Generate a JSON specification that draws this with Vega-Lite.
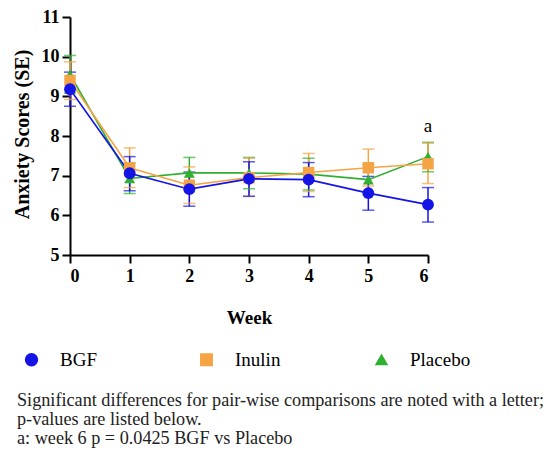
{
  "$schema": "https://vega.github.io/schema/vega-lite/v6.json",
  "width": 358,
  "height": 238,
  "autosize": {"type": "none"},
  "padding": {"left": 70, "top": 17, "right": 121, "bottom": 199},
  "background": "white",
  "config": {
    "view": {"stroke": null},
    "font": "Liberation Serif"
  },
  "title": {
    "text": [
      "Significant differences for pair-wise comparisons are noted with a letter;",
      "p-values are listed below.",
      "a: week 6 p = 0.0425 BGF vs Placebo"
    ],
    "orient": "bottom",
    "anchor": "start",
    "frame": "group",
    "dx": -53,
    "offset": 22,
    "font": "Liberation Serif",
    "fontSize": 18.2,
    "fontWeight": "normal",
    "lineHeight": 19,
    "color": "#222"
  },
  "data": {
    "values": [
      {"group": "Placebo", "week": 0, "mean": 9.55, "lo": 9.08, "hi": 10.03},
      {"group": "Placebo", "week": 1, "mean": 6.93, "lo": 6.55, "hi": 7.32},
      {"group": "Placebo", "week": 2, "mean": 7.07, "lo": 6.67, "hi": 7.46},
      {"group": "Placebo", "week": 3, "mean": 7.07, "lo": 6.67, "hi": 7.46},
      {"group": "Placebo", "week": 4, "mean": 7.04, "lo": 6.64, "hi": 7.44},
      {"group": "Placebo", "week": 5, "mean": 6.9, "lo": 6.52, "hi": 7.28},
      {"group": "Placebo", "week": 6, "mean": 7.48, "lo": 7.1, "hi": 7.84},
      {"group": "Inulin", "week": 0, "mean": 9.4, "lo": 8.92, "hi": 9.87},
      {"group": "Inulin", "week": 1, "mean": 7.2, "lo": 6.7, "hi": 7.7},
      {"group": "Inulin", "week": 2, "mean": 6.76, "lo": 6.3, "hi": 7.22},
      {"group": "Inulin", "week": 3, "mean": 6.95, "lo": 6.48, "hi": 7.44},
      {"group": "Inulin", "week": 4, "mean": 7.08, "lo": 6.6, "hi": 7.56},
      {"group": "Inulin", "week": 5, "mean": 7.2, "lo": 6.74, "hi": 7.67},
      {"group": "Inulin", "week": 6, "mean": 7.3, "lo": 6.8, "hi": 7.82},
      {"group": "BGF", "week": 0, "mean": 9.18, "lo": 8.75, "hi": 9.61},
      {"group": "BGF", "week": 1, "mean": 7.06, "lo": 6.62, "hi": 7.48},
      {"group": "BGF", "week": 2, "mean": 6.66, "lo": 6.23, "hi": 7.09},
      {"group": "BGF", "week": 3, "mean": 6.92, "lo": 6.48, "hi": 7.35},
      {"group": "BGF", "week": 4, "mean": 6.9, "lo": 6.47, "hi": 7.33},
      {"group": "BGF", "week": 5, "mean": 6.56, "lo": 6.13, "hi": 6.98},
      {"group": "BGF", "week": 6, "mean": 6.27, "lo": 5.83, "hi": 6.7}
    ]
  },
  "encoding": {
    "x": {
      "field": "week",
      "type": "quantitative",
      "scale": {"domain": [0, 6], "nice": false, "zero": false},
      "axis": {
        "title": "Week",
        "values": [0, 1, 2, 3, 4, 5, 6],
        "format": "d",
        "grid": false,
        "labelOverlap": false,
        "domainColor": "black",
        "domainWidth": 2,
        "tickColor": "black",
        "tickWidth": 2,
        "tickSize": 8,
        "labelFont": "Liberation Serif",
        "labelFontSize": 18,
        "labelFontWeight": "bold",
        "labelColor": "black",
        "labelPadding": 4,
        "titleFont": "Liberation Serif",
        "titleFontSize": 19,
        "titleFontWeight": "bold",
        "titleColor": "black",
        "titlePadding": 23
      }
    },
    "color": {
      "field": "group",
      "type": "nominal",
      "scale": {
        "domain": ["BGF", "Inulin", "Placebo"],
        "range": ["#1414e6", "#f5a445", "#2fb02f"]
      },
      "legend": {
        "title": null,
        "orient": "none",
        "legendX": -48,
        "legendY": 333,
        "direction": "horizontal",
        "columns": 3,
        "gridAlign": "all",
        "columnPadding": 76,
        "symbolSize": 120,
        "symbolOpacity": 1,
        "labelFont": "Liberation Serif",
        "labelFontSize": 19,
        "labelColor": "black",
        "labelOffset": 19
      }
    }
  },
  "layer": [
    {
      "mark": {"type": "rule", "strokeWidth": 1.5},
      "encoding": {
        "y": {
          "field": "lo",
          "type": "quantitative",
          "scale": {"domain": [5, 11], "nice": false, "zero": false},
          "axis": {
            "title": "Anxiety Scores  (SE)",
            "values": [5, 6, 7, 8, 9, 10, 11],
            "tickCount": 7,
            "grid": false,
            "labelOverlap": false,
            "domainColor": "black",
            "domainWidth": 2,
            "tickColor": "black",
            "tickWidth": 2,
            "tickSize": 8,
            "labelFont": "Liberation Serif",
            "labelFontSize": 18,
            "labelFontWeight": "bold",
            "labelColor": "black",
            "labelPadding": 3,
            "titleFont": "Liberation Serif",
            "titleFontSize": 20,
            "titleFontWeight": "bold",
            "titleColor": "black",
            "titleX": -38,
            "titleY": 117
          }
        },
        "y2": {"field": "hi"}
      }
    },
    {
      "mark": {"type": "tick", "orient": "horizontal", "size": 12, "thickness": 1.5},
      "encoding": {
        "y": {"field": "lo", "type": "quantitative"}
      }
    },
    {
      "mark": {"type": "tick", "orient": "horizontal", "size": 12, "thickness": 1.5},
      "encoding": {
        "y": {"field": "hi", "type": "quantitative"}
      }
    },
    {
      "mark": {"type": "line", "strokeWidth": 1.6},
      "encoding": {
        "y": {"field": "mean", "type": "quantitative"}
      }
    },
    {
      "mark": {"type": "point", "filled": true, "opacity": 1},
      "encoding": {
        "y": {"field": "mean", "type": "quantitative"},
        "shape": {
          "field": "group",
          "type": "nominal",
          "scale": {"domain": ["BGF", "Inulin", "Placebo"], "range": ["circle", "square", "triangle-up"]},
          "legend": null
        },
        "size": {
          "field": "group",
          "type": "nominal",
          "scale": {"domain": ["BGF", "Inulin", "Placebo"], "range": [140, 120, 70]},
          "legend": null
        }
      }
    },
    {
      "data": {"values": [{"week": 6, "y": 8.25, "label": "a"}]},
      "mark": {"type": "text", "font": "Liberation Serif", "fontSize": 19, "color": "black", "baseline": "middle"},
      "encoding": {
        "x": {"field": "week", "type": "quantitative"},
        "y": {"field": "y", "type": "quantitative"},
        "text": {"field": "label"},
        "color": null
      }
    }
  ]
}
